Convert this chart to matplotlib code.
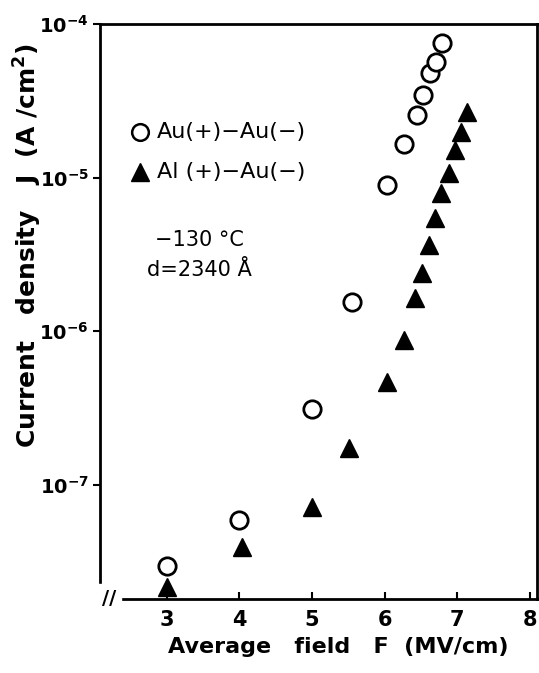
import matplotlib
matplotlib.use("Agg")
import matplotlib.pyplot as plt
from matplotlib.ticker import NullLocator

# Au(+)-Au(-) junction, open circles
au_field = [3.0, 4.0, 5.0, 5.55, 6.03, 6.26, 6.44, 6.53, 6.63, 6.71, 6.79]
au_current = [2.93e-8, 5.9e-8, 3.1e-7, 1.55e-6, 8.9e-6, 1.66e-5, 2.56e-5,
              3.45e-5, 4.8e-5, 5.7e-5, 7.6e-5]

# Al(+)-Au(-) junction, filled triangles
al_field = [3.0, 4.03, 5.0, 5.51, 6.03, 6.26, 6.42, 6.52, 6.61, 6.70, 6.78,
            6.88, 6.97, 7.05, 7.14]
al_current = [2.17e-8, 3.9e-8, 7.2e-8, 1.74e-7, 4.7e-7, 8.8e-7, 1.65e-6,
              2.4e-6, 3.65e-6, 5.5e-6, 7.95e-6, 1.07e-5, 1.51e-5, 1.98e-5, 2.67e-5]

x_ticks = [3, 4, 5, 6, 7, 8]
y_ticks = [1e-7, 1e-6, 1e-5, 1e-4]
y_tick_labels = [r"$10^{-7}$", r"$10^{-6}$", r"$10^{-5}$", r"$10^{-4}$"]

plt.rcParams["font.family"] = "DejaVu Sans"
plt.rcParams["font.weight"] = "bold"
plt.rcParams["axes.labelweight"] = "bold"
plt.rcParams["mathtext.default"] = "bf"

fig = plt.figure(figsize=(5.39, 6.73), dpi=100)
ax = fig.add_axes([0.1855, 0.110, 0.811, 0.854])

ax.plot(au_field, au_current, linestyle="none", marker="o", markersize=12.5,
        markerfacecolor="white", markeredgecolor="black", markeredgewidth=2)
ax.plot(al_field, al_current, linestyle="none", marker="^", markersize=13,
        color="black")

ax.set_yscale("log")
ax.set_xlim(2.08, 8.1)
ax.set_ylim(1.8e-8, 1e-4)

ax.set_xticks(x_ticks)
ax.set_yticks(y_ticks)
ax.set_yticklabels(y_tick_labels)
ax.yaxis.set_minor_locator(NullLocator())
ax.tick_params(axis="x", direction="in", length=5, width=1.5, labelsize=15, pad=8)
ax.tick_params(axis="y", direction="out", length=5, width=1.5, labelsize=14, pad=3)

for s in ax.spines.values():
    s.set_linewidth(2)

ax.set_xlabel("Average   field   F  (MV/cm)", fontsize=16)
ax.xaxis.set_label_coords(0.545, -0.067)
ax.set_ylabel(r"Current   density   J  (A /cm$^2$)", fontsize=18)
ax.yaxis.set_label_coords(-0.128, 0.615)

# axis break on the field axis
ax.text(2.2, 1.8e-8, "//", fontsize=14, ha="center", va="center",
        backgroundcolor="white", fontweight="bold")

# legend drawn inline
ax.plot([2.63], [2.0e-5], marker="o", markersize=12, markerfacecolor="white",
        markeredgecolor="black", markeredgewidth=1.8, clip_on=False)
ax.text(2.86, 2.0e-5, "Au(+)−Au(−)", fontsize=16, fontweight="normal",
        va="center")
ax.plot([2.63], [1.09e-5], marker="^", markersize=13, color="black", clip_on=False)
ax.text(2.86, 1.09e-5, "Al (+)−Au(−)", fontsize=16, fontweight="normal",
        va="center")

ax.text(3.45, 3.92e-6, "−130 °C", fontsize=15, fontweight="normal",
        ha="center", va="center")
ax.text(3.45, 2.5e-6, "d=2340 Å", fontsize=15, fontweight="normal",
        ha="center", va="center")

fig.savefig("out.png", dpi=100)
